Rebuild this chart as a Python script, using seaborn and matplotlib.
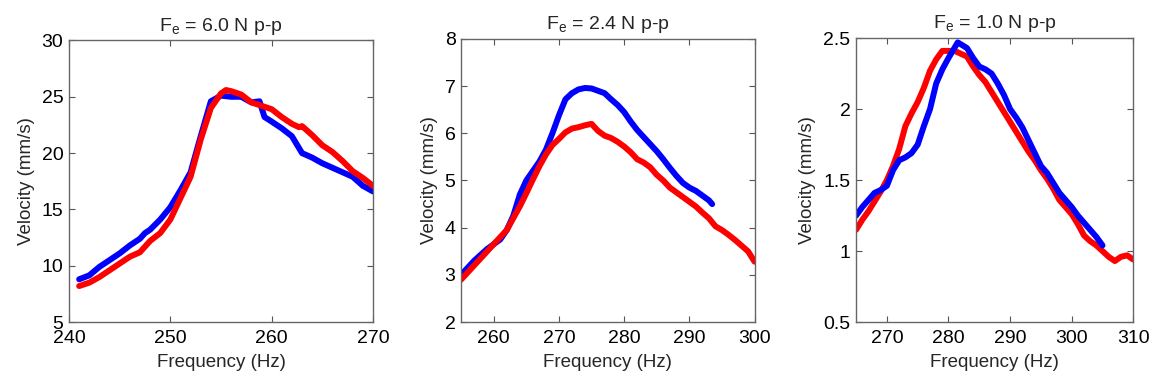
import numpy as np
import pandas as pd
import matplotlib
matplotlib.use("Agg")
import matplotlib.pyplot as plt
import seaborn as sns

# ---- Data ----
titles = [r"F$_\mathregular{e}$ = 6.0 N p-p",
          r"F$_\mathregular{e}$ = 2.4 N p-p",
          r"F$_\mathregular{e}$ = 1.0 N p-p"]

f1_blue = [241, 242, 243, 244, 245, 246, 247, 247.5, 248, 249, 250, 251, 252, 253, 254, 255, 256, 257,
           258, 258.8, 259.3, 260, 261, 262, 263, 264, 265, 266, 267, 268, 269, 270]
v1_blue = [8.8, 9.15, 9.9, 10.5, 11.1, 11.8, 12.4, 12.9, 13.2, 14.1, 15.2, 16.7, 18.3, 21.5, 24.6, 25.1, 25.0, 25.0,
           24.5, 24.6, 23.2, 22.8, 22.2, 21.5, 20.0, 19.6, 19.1, 18.7, 18.3, 17.9, 17.1, 16.6]
f1_red = [241, 242, 243, 244, 245, 246, 247, 248, 249, 250, 251, 252, 253, 254, 255, 255.5, 256, 257,
          258, 259, 260, 261, 262, 262.7, 263, 264, 265, 266, 267, 268, 269, 270]
v1_red = [8.2, 8.5, 9.0, 9.6, 10.2, 10.8, 11.2, 12.2, 12.9, 14.1, 16.0, 17.9, 21.2, 24.0, 25.3, 25.6, 25.5, 25.2,
          24.5, 24.2, 23.9, 23.2, 22.6, 22.3, 22.4, 21.6, 20.7, 20.1, 19.3, 18.4, 17.8, 17.1]

f2_blue = [255, 257, 259, 261, 262, 263, 264, 265, 267, 268, 269, 270, 271, 272, 273, 274, 275, 276, 277,
           278, 279, 280, 281, 282, 283, 284, 285, 286, 287, 288, 289, 290, 291, 292, 293, 293.5]
v2_blue = [3.0, 3.3, 3.55, 3.75, 3.95, 4.25, 4.7, 5.0, 5.4, 5.65, 6.0, 6.38, 6.72, 6.85, 6.93, 6.96, 6.95, 6.9, 6.85,
           6.72, 6.6, 6.45, 6.25, 6.07, 5.92, 5.77, 5.62, 5.45, 5.27, 5.1, 4.95, 4.85, 4.78, 4.68, 4.58, 4.5]
f2_red = [255, 257, 259, 261, 262, 263, 264, 265, 266, 267, 268, 269, 270, 271, 272, 273, 274, 275, 276, 277,
          278, 279, 280, 281, 282, 283, 284, 285, 286, 287, 288, 289, 290, 291, 292, 293, 294, 295, 296, 297,
          298, 299, 300]
v2_red = [2.9, 3.2, 3.5, 3.8, 3.95, 4.2, 4.45, 4.73, 5.02, 5.3, 5.55, 5.75, 5.88, 6.02, 6.1, 6.13, 6.17, 6.2, 6.05,
          5.95, 5.9, 5.82, 5.72, 5.6, 5.45, 5.38, 5.28, 5.12, 5.0, 4.85, 4.75, 4.65, 4.55, 4.45, 4.32, 4.2, 4.03,
          3.95, 3.85, 3.74, 3.62, 3.5, 3.28]

f3_blue = [265, 266, 267, 268, 269, 270, 271, 272, 273, 274, 275, 276, 277, 278, 279, 280, 281.5, 283, 284,
           285, 286, 287, 288, 289, 290, 291, 292, 293, 294, 295, 296, 297, 298, 299, 300, 301, 302, 303, 304, 305]
v3_blue = [1.25, 1.31, 1.36, 1.41, 1.43, 1.46, 1.57, 1.64, 1.66, 1.69, 1.75, 1.88, 2.0, 2.18, 2.28, 2.36, 2.47, 2.43, 2.36,
           2.3, 2.28, 2.25, 2.18, 2.1, 2.0, 1.94, 1.87, 1.78, 1.69, 1.6, 1.55, 1.48, 1.41, 1.36, 1.31, 1.25, 1.2, 1.15,
           1.1, 1.04]
f3_red = [265, 266, 267, 268, 269, 270, 271, 272, 273, 274, 275, 276, 277, 278, 279, 280, 281, 282, 283, 284,
          285, 286, 287, 288, 289, 290, 291, 292, 293, 294, 295, 296, 297, 298, 299, 300, 301, 302, 303, 304, 305,
          306, 307, 308, 309, 310]
v3_red = [1.15, 1.22, 1.28, 1.35, 1.42, 1.5, 1.6, 1.72, 1.88, 1.97, 2.05, 2.15, 2.27, 2.35, 2.41, 2.41, 2.41, 2.39,
          2.37, 2.3, 2.24, 2.19, 2.12, 2.05, 1.98, 1.91, 1.84, 1.77, 1.7, 1.64, 1.57, 1.51, 1.44, 1.36, 1.31, 1.26,
          1.19, 1.11, 1.07, 1.04, 1.0, 0.96, 0.93, 0.96, 0.97, 0.94]

xlims = [(240, 270), (255, 300), (265, 310)]
ylims = [(5, 30), (2, 8), (0.5, 2.5)]
xticks = [[240, 250, 260, 270], [260, 270, 280, 290, 300], [270, 280, 290, 300, 310]]
yticks = [[5, 10, 15, 20, 25, 30], [2, 3, 4, 5, 6, 7, 8], [0.5, 1, 1.5, 2, 2.5]]
yticklabels = [["5", "10", "15", "20", "25", "30"], ["2", "3", "4", "5", "6", "7", "8"],
               ["0.5", "1", "1.5", "2", "2.5"]]

series = [
    [(f1_blue, v1_blue, "blue"), (f1_red, v1_red, "red")],
    [(f2_blue, v2_blue, "blue"), (f2_red, v2_red, "red")],
    [(f3_red, v3_red, "red"), (f3_blue, v3_blue, "blue")],
]

sns.set_style("white")
plt.rcParams['font.family'] = ['Liberation Sans', 'DejaVu Sans']
plt.rcParams['mathtext.fontset'] = 'custom'
plt.rcParams['mathtext.rm'] = 'Liberation Sans'

fig = plt.figure(figsize=(11.6, 3.89), dpi=100)
rects = [(0.0595, 0.172, 0.262, 0.724),
         (0.3975, 0.172, 0.253, 0.728),
         (0.738, 0.172, 0.239, 0.730)]

for i in range(3):
    ax = fig.add_axes(rects[i])
    for fx, vy, col in series[i]:
        df = pd.DataFrame({"f": fx, "v": vy})
        sns.lineplot(data=df, x="f", y="v", ax=ax, color=col, linewidth=4.3,
                     estimator=None, sort=False)
    ax.set_xlim(*xlims[i])
    ax.set_ylim(*ylims[i])
    ax.set_xticks(xticks[i])
    ax.set_yticks(yticks[i])
    ax.set_yticklabels(yticklabels[i])
    ax.tick_params(direction="in", length=4, width=0.8, colors="#555555",
                   labelcolor="black", labelsize=14, top=True, right=True,
                   bottom=True, left=True)
    ax.tick_params(axis="x", pad=6)
    ax.tick_params(axis="y", pad=4)
    for sp in ax.spines.values():
        sp.set_visible(True)
        sp.set_color("#666666")
        sp.set_linewidth(1.0)
    ax.set_xlabel("Frequency (Hz)", fontsize=13.5, labelpad=5)
    ax.set_ylabel("Velocity (mm/s)", fontsize=13.5, labelpad=5)
    ax.set_title(titles[i], fontsize=14, pad=7)

fig.savefig("out.png", dpi=100, facecolor="white")
